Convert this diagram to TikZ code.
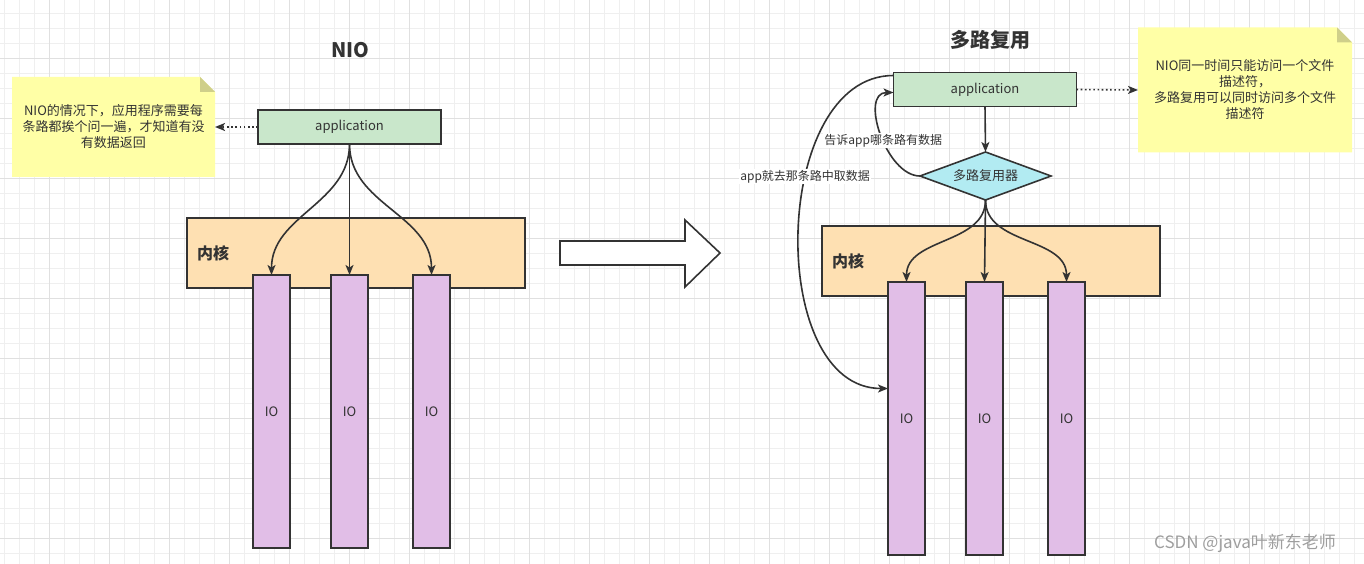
\documentclass[tikz,border=0pt]{standalone}
\usepackage{fontspec}
\setmainfont{Noto Sans CJK SC}
\usetikzlibrary{arrows.meta,positioning,shapes.geometric}
\definecolor{inkline}{HTML}{333333}
\definecolor{appgreen}{HTML}{C9E7CB}
\definecolor{kernorange}{HTML}{FEE0B2}
\definecolor{iopurple}{HTML}{E1BEE7}
\definecolor{muxcyan}{HTML}{B2EBF2}
\definecolor{noteyellow}{HTML}{FFFFA6}
\definecolor{notefold}{HTML}{CFCF8A}
\definecolor{gridminor}{HTML}{EFEFEF}
\definecolor{gridmajor}{HTML}{E0E0E0}

\begin{document}
\begin{tikzpicture}[x=1pt,y=1pt,
  every node/.style={text=inkline, font=\fontsize{13}{16}\selectfont},
  basebox/.style={draw=inkline, line width=1.6pt, inner sep=0pt, outer sep=0pt},
  appbox/.style={basebox, fill=appgreen, minimum width=183pt, minimum height=34pt},
  kernbox/.style={basebox, fill=kernorange, minimum width=338pt, minimum height=70pt},
  iobar/.style={basebox, fill=iopurple, minimum width=37pt, minimum height=273pt},
  muxbox/.style={basebox, diamond, aspect=2.73, fill=muxcyan, minimum width=131pt, minimum height=48pt},
  notebox/.style={inner sep=0pt, outer sep=0pt, align=center, path picture={
    \fill[noteyellow] (path picture bounding box.south west) -- (path picture bounding box.north west)
      -- ([xshift=-15pt]path picture bounding box.north east) -- ([yshift=-15pt]path picture bounding box.north east)
      -- (path picture bounding box.south east) -- cycle;
    \fill[notefold] ([xshift=-15pt]path picture bounding box.north east) -- ([yshift=-15pt]path picture bounding box.north east)
      -- ([xshift=-15pt,yshift=-15pt]path picture bounding box.north east) -- cycle;}},
  headline/.style={font=\fontsize{20}{24}\selectfont\bfseries},
  kerntext/.style={font=\fontsize{16}{18}\selectfont\bfseries, inner sep=0pt},
  edgetext/.style={font=\fontsize{12}{14}\selectfont, fill=white, inner sep=1pt},
  flow/.style={draw=inkline, line width=1.6pt, -{Stealth[length=10pt,width=8pt,inset=2.5pt]}},
  hint/.style={flow, dash pattern=on 1.6pt off 2.6pt}]

\fill[white] (0,0) rectangle (1364,-564);
\useasboundingbox (0,0) rectangle (1364,-564);
% grid
\foreach \x in {4,19,...,1364} \draw[gridminor, line width=0.7pt] (\x,0) -- (\x,-564);
\foreach \y in {13,28,...,564} \draw[gridminor, line width=0.7pt] (0,-\y) -- (1364,-\y);
\foreach \x in {49,109,...,1364} \draw[gridmajor, line width=0.7pt] (\x,0) -- (\x,-564);
\foreach \y in {58,118,...,564} \draw[gridmajor, line width=0.7pt] (0,-\y) -- (1364,-\y);

% NIO
\node[headline] (nio) at (350,-50) {NIO};
\node[notebox, minimum width=203pt, minimum height=100pt] (note1) at (113.5,-127)
  {NIO的情况下，应用程序需要每\\条路都挨个问一遍，才知道有没\\有数据返回};
\node[kernbox] (kern1) at (356,-253) {};
\node[kerntext, right=10pt of kern1.west] (kl1) {内核};
\node[iobar] (io11) at (271.5,-411.5) {IO};
\node[iobar] (io12) at (349.5,-411.5) {IO};
\node[iobar] (io13) at (431.5,-411.5) {IO};
\node[appbox] (app1) at (349.5,-127) {application};
\draw[hint] (app1.west) -- (note1.east);
\draw[flow] (app1.south) to[out=-90,in=90] (io11.north);
\draw[flow] (app1.south) -- (io12.north);
\draw[flow] (app1.south) to[out=-90,in=90] (io13.north);

% big arrow
\draw[inkline, fill=white, line width=1.6pt] (560,-241) -- (685,-241) -- (685,-220) -- (720,-253)
  -- (685,-287) -- (685,-265) -- (560,-265) -- cycle;

% multiplexing
\node[headline] (muxhead) at (990,-40) {多路复用};
\node[notebox, minimum width=214pt, minimum height=125pt] (note2) at (1245,-90)
  {NIO同一时间只能访问一个文件\\描述符，\\多路复用可以同时访问多个文件\\描述符};
\node[kernbox] (kern2) at (991,-261) {};
\node[kerntext, right=10pt of kern2.west] (kl2) {内核};
\node[iobar] (io21) at (906.5,-418.5) {IO};
\node[iobar] (io22) at (984.5,-418.5) {IO};
\node[iobar] (io23) at (1066.5,-418.5) {IO};
\node[appbox] (app2) at (985,-89.5) {application};
\node[muxbox] (mux) at (985.5,-176) {多路复用器};
\draw[hint] (app2.east) -- (note2.west);
\draw[flow] (app2.south) -- (mux.north);
\draw[flow] (mux.west) to[out=180,in=180] node[edgetext, pos=0.45] {告诉app哪条路有数据} ([yshift=-3pt]app2.west);
\draw[flow] ([yshift=14pt]app2.west) to[out=180,in=180] node[edgetext, pos=0.38] {app就去那条路中取数据} ([yshift=30pt]io21.west);
\draw[flow] (mux.south) to[out=-90,in=90] (io21.north);
\draw[flow] (mux.south) -- (io22.north);
\draw[flow] (mux.south) to[out=-90,in=90] (io23.north);

\node[font=\fontsize{17}{17}\selectfont, text=black!38] (mark) at (1245,-543) {CSDN @java叶新东老师};
\end{tikzpicture}
\end{document}
